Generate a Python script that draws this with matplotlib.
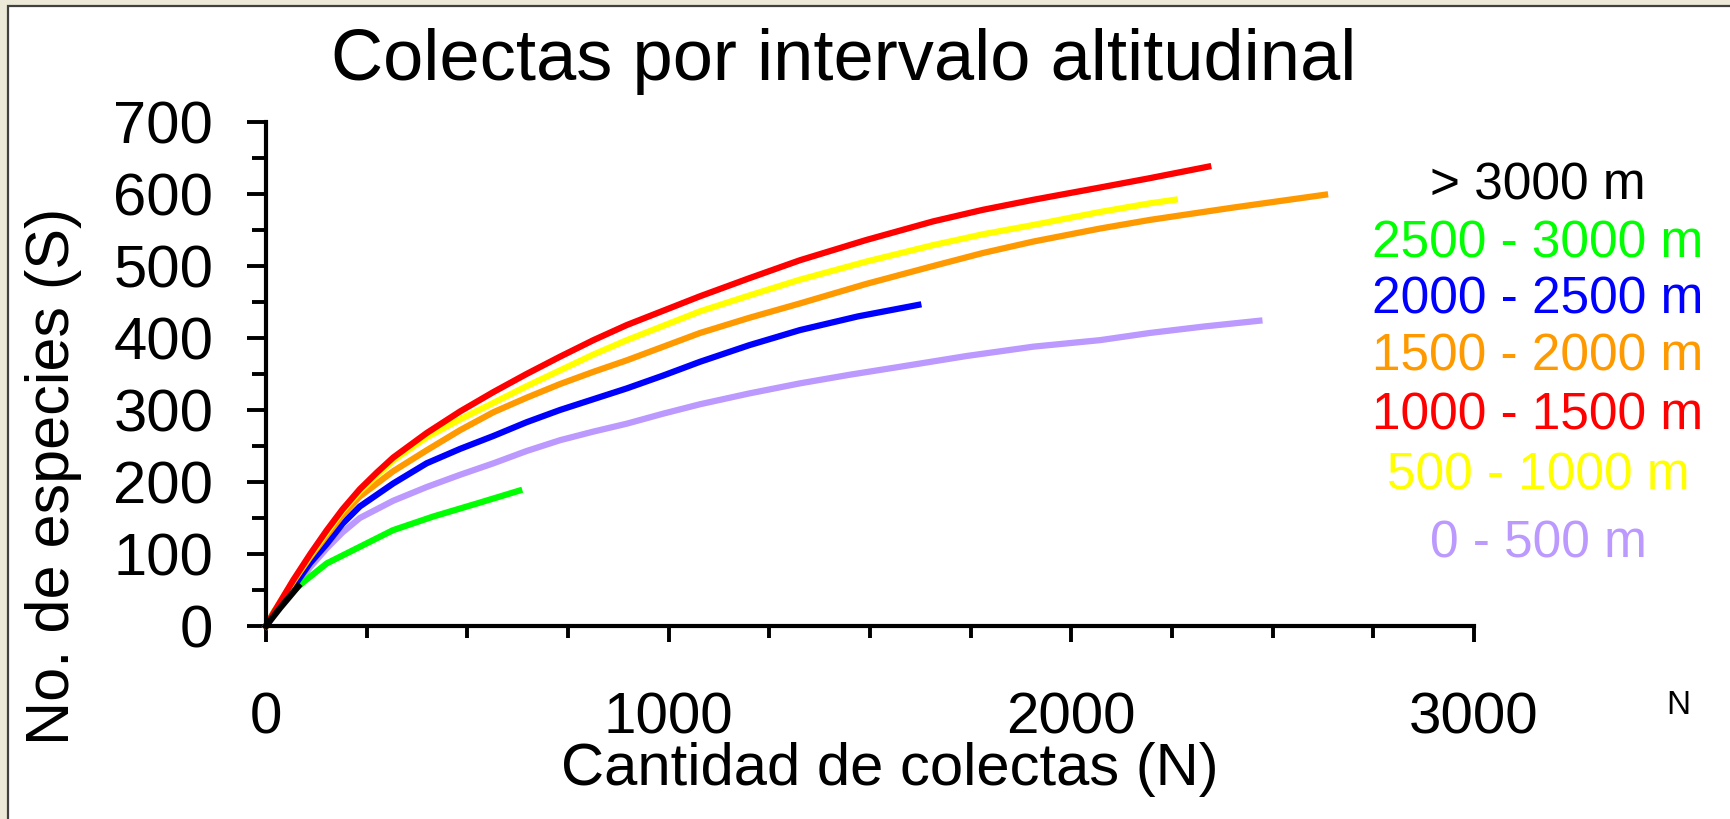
import numpy as np
import matplotlib
matplotlib.use("Agg")
import matplotlib.pyplot as plt
from matplotlib.patches import Rectangle
from matplotlib.ticker import MultipleLocator

plt.rcParams["font.family"] = ["Liberation Sans", "DejaVu Sans"]

# curves (N, S)
x_0_500 = [0, 25, 68, 110, 151, 190, 233, 316, 399, 482, 565, 647, 730, 813, 896, 987,
           1078, 1200, 1326, 1450, 1574, 1740, 1906, 2071, 2195, 2330, 2467]
y_0_500 = [0, 20, 50, 82, 108, 130, 150, 174, 193, 210, 226, 243, 258, 270, 281, 295,
           308, 323, 337, 349, 360, 375, 388, 397, 407, 416, 424]

x_2500_3000 = [0, 20, 40, 84, 151, 233, 315, 415, 523, 629]
y_2500_3000 = [0, 20, 35, 57, 87, 110, 133, 152, 170, 188]

x_2000_2500 = [0, 25, 68, 109, 151, 190, 233, 316, 399, 482, 565, 647, 730, 813, 896, 987,
               1078, 1200, 1326, 1470, 1620]
y_2000_2500 = [0, 21, 54, 87, 114, 142, 166, 198, 226, 246, 264, 283, 300, 315, 330, 348,
               367, 390, 411, 430, 446]

x_1500_2000 = [0, 25, 68, 110, 151, 190, 233, 316, 399, 482, 565, 647, 730, 813, 896, 987,
               1078, 1200, 1326, 1490, 1657, 1780, 1906, 2071, 2195, 2400, 2630]
y_1500_2000 = [0, 23, 62, 96, 126, 154, 180, 215, 244, 272, 297, 317, 336, 353, 369, 388,
               407, 428, 448, 475, 500, 518, 534, 552, 564, 581, 599]

x_500_1000 = [0, 25, 68, 110, 151, 190, 233, 275, 316, 399, 482, 565, 647, 730, 813, 896, 987,
              1078, 1200, 1326, 1490, 1657, 1780, 1906, 2071, 2195, 2257]
y_500_1000 = [0, 24, 63, 98, 130, 160, 187, 209, 230, 262, 287, 310, 333, 355, 377, 397, 417,
              437, 459, 481, 506, 529, 544, 557, 575, 587, 592]

x_1000_1500 = [0, 25, 68, 110, 151, 190, 233, 275, 316, 399, 482, 565, 647, 730, 813, 896, 987,
               1078, 1200, 1326, 1490, 1657, 1780, 1906, 2071, 2195, 2340]
y_1000_1500 = [0, 24, 64, 100, 133, 162, 190, 213, 234, 268, 298, 325, 350, 374, 397, 418, 438,
               458, 483, 508, 536, 562, 578, 592, 609, 622, 638]

x_3000 = [0, 35, 80]
y_3000 = [0, 25, 55]

labels = ["> 3000 m", "2500 - 3000 m", "2000 - 2500 m", "1500 - 2000 m",
          "1000 - 1500 m", "500 - 1000 m", "0 - 500 m"]
colors = ["black", "#00ff00", "#0000ff", "#ff9900", "#ff0000", "#ffff00", "#bb99ff"]
label_baselines = [199, 257, 314, 371, 430, 489, 557]  # px from top

W, H = 1730, 819
fig = plt.figure(figsize=(W / 100, H / 100), dpi=100, facecolor="#ece9d8")
fig.patches.append(Rectangle((8 / W, -0.05), 1.2, 1 - 6 / H + 0.05,
                             transform=fig.transFigure, facecolor="white",
                             edgecolor="#404040", linewidth=1.6, zorder=-5))

ax = fig.add_axes([266 / W, 1 - 626 / H, (1474 - 266) / W, (626 - 122) / H])
ax.set_facecolor("none")

lw = 4.5
ax.plot(x_0_500, y_0_500, color=colors[6], lw=lw, clip_on=False)
ax.plot(x_2500_3000, y_2500_3000, color=colors[1], lw=lw, clip_on=False)
ax.plot(x_2000_2500, y_2000_2500, color=colors[2], lw=lw, clip_on=False)
ax.plot(x_1500_2000, y_1500_2000, color=colors[3], lw=lw, clip_on=False)
ax.plot(x_500_1000, y_500_1000, color=colors[5], lw=lw, clip_on=False)
ax.plot(x_1000_1500, y_1000_1500, color=colors[4], lw=lw, clip_on=False)
ax.plot(x_3000, y_3000, color=colors[0], lw=lw, clip_on=False)

ax.set_xlim(0, 3000)
ax.set_ylim(0, 700)
for s in ["top", "right"]:
    ax.spines[s].set_visible(False)
for s in ["left", "bottom"]:
    ax.spines[s].set_linewidth(3)

ax.xaxis.set_major_locator(MultipleLocator(1000))
ax.xaxis.set_minor_locator(MultipleLocator(250))
ax.yaxis.set_major_locator(MultipleLocator(100))
ax.yaxis.set_minor_locator(MultipleLocator(50))
ax.tick_params(axis="x", which="major", direction="out", length=11.5, width=2.8,
               labelsize=42, pad=36)
ax.tick_params(axis="x", which="minor", direction="out", length=8.5, width=2.8)
ax.tick_params(axis="y", which="major", direction="out", length=14, width=2.8,
               labelsize=43, pad=24)
ax.tick_params(axis="y", which="minor", direction="out", length=10, width=2.8)

fig.text(844 / W, 1 - 80 / H, "Colectas por intervalo altitudinal",
         fontsize=52, ha="center", va="baseline")
fig.text(890 / W, 1 - 785 / H, "Cantidad de colectas (N)",
         fontsize=43, ha="center", va="baseline")
fig.text(54 / W, 1 - 476 / H, "No. de especies (S)", fontsize=44,
         rotation=90, ha="center", va="center")
fig.text(1678 / W, 1 - 705 / H, "N", fontsize=24, ha="center", va="center")

for lab, c, yb in zip(labels, colors, label_baselines):
    fig.text(1538 / W, 1 - yb / H, lab, color=c, fontsize=37,
             ha="center", va="baseline")

fig.savefig("out.png", dpi=100, facecolor=fig.get_facecolor())
